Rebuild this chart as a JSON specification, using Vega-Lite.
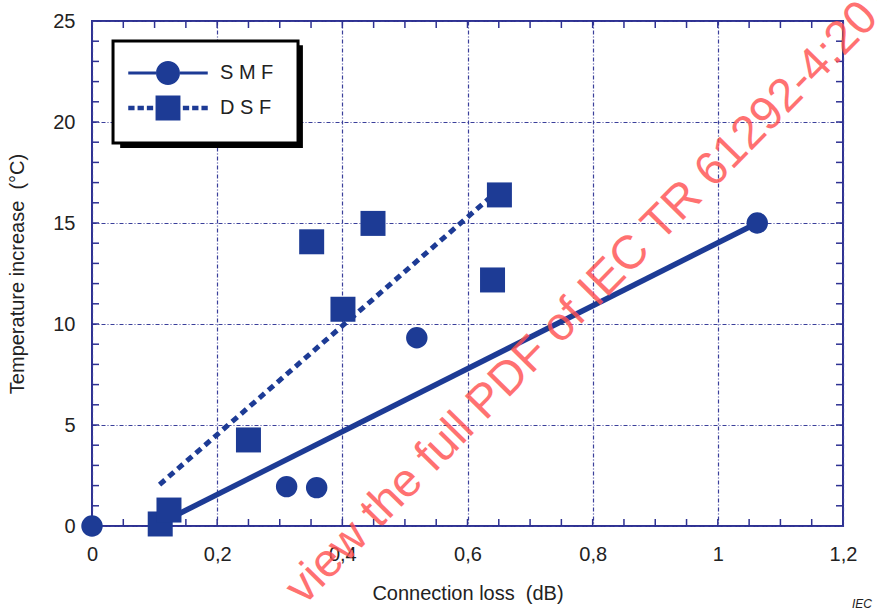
{
  "$schema": "https://vega.github.io/schema/vega-lite/v6.json",
  "width": 751,
  "height": 505,
  "autosize": "none",
  "padding": {"left": 92, "top": 21, "right": 34, "bottom": 85},
  "background": "white",
  "config": {
    "view": {"stroke": "#2e3192", "strokeWidth": 2},
    "font": "Liberation Sans",
    "axis": {
      "domain": false,
      "ticks": false,
      "gridColor": "#3a3f9a",
      "gridDash": [4, 2, 1, 2],
      "gridWidth": 1.2,
      "labelFontSize": 20,
      "labelColor": "#222222",
      "labelFont": "Liberation Sans",
      "labelFlush": false,
      "labelOverlap": false,
      "labelBound": false,
      "titleFontSize": 20,
      "titleFontWeight": "normal",
      "titleColor": "#222222",
      "titleFont": "Liberation Sans"
    }
  },
  "datasets": {
    "points": [
      {"series": "S M F", "loss": 0, "temp": 0},
      {"series": "S M F", "loss": 0.311, "temp": 1.95},
      {"series": "S M F", "loss": 0.359, "temp": 1.9},
      {"series": "S M F", "loss": 0.519, "temp": 9.32},
      {"series": "S M F", "loss": 1.063, "temp": 15.0},
      {"series": "D S F", "loss": 0.109, "temp": 0.1},
      {"series": "D S F", "loss": 0.123, "temp": 0.79},
      {"series": "D S F", "loss": 0.25, "temp": 4.26},
      {"series": "D S F", "loss": 0.351, "temp": 14.07},
      {"series": "D S F", "loss": 0.401, "temp": 10.73},
      {"series": "D S F", "loss": 0.449, "temp": 14.98},
      {"series": "D S F", "loss": 0.64, "temp": 12.18},
      {"series": "D S F", "loss": 0.651, "temp": 16.39}
    ],
    "lines": [
      {"series": "S M F", "loss": 0.1, "temp": 0},
      {"series": "S M F", "loss": 1.063, "temp": 15.0},
      {"series": "D S F", "loss": 0.108, "temp": 2.05},
      {"series": "D S F", "loss": 0.645, "temp": 16.5}
    ],
    "ticksX": [
      {"v": 0.05}, {"v": 0.1}, {"v": 0.15}, {"v": 0.2}, {"v": 0.25}, {"v": 0.3}, {"v": 0.35}, {"v": 0.4}, {"v": 0.45}, {"v": 0.5}, {"v": 0.55}, {"v": 0.6},
      {"v": 0.65}, {"v": 0.7}, {"v": 0.75}, {"v": 0.8}, {"v": 0.85}, {"v": 0.9}, {"v": 0.95}, {"v": 1}, {"v": 1.05}, {"v": 1.1}, {"v": 1.15}
    ],
    "ticksY": [
      {"v": 1}, {"v": 2}, {"v": 3}, {"v": 4}, {"v": 5}, {"v": 6}, {"v": 7}, {"v": 8}, {"v": 9}, {"v": 10}, {"v": 11}, {"v": 12},
      {"v": 13}, {"v": 14}, {"v": 15}, {"v": 16}, {"v": 17}, {"v": 18}, {"v": 19}, {"v": 20}, {"v": 21}, {"v": 22}, {"v": 23}, {"v": 24}
    ]
  },
  "layer": [
    {
      "data": {"values": [{"part": "shadow"}]},
      "mark": {"type": "rect", "fill": "#000000"},
      "encoding": {
        "x": {"datum": 0.045, "type": "quantitative", "scale": {"domain": [0, 1.2], "nice": false}, "axis": null},
        "x2": {"datum": 0.337},
        "y": {"datum": 18.71, "type": "quantitative", "scale": {"domain": [0, 25], "nice": false}, "axis": null},
        "y2": {"datum": 23.8}
      }
    },
    {
      "data": {"values": [{"part": "box"}]},
      "mark": {"type": "rect", "fill": "#ffffff", "stroke": "#000000", "strokeWidth": 3},
      "encoding": {
        "x": {"datum": 0.0336, "type": "quantitative", "axis": null},
        "x2": {"datum": 0.3292},
        "y": {"datum": 18.96, "type": "quantitative", "axis": null},
        "y2": {"datum": 24.01}
      }
    },
    {
      "data": {"name": "ticksX"},
      "mark": {"type": "tick", "orient": "vertical", "color": "#2e3192", "size": 7, "thickness": 1.5, "yOffset": -3.5, "opacity": 1, "clip": false},
      "encoding": {
        "x": {"field": "v", "type": "quantitative", "axis": null},
        "y": {"datum": 0, "type": "quantitative", "axis": null}
      }
    },
    {
      "data": {"name": "ticksX"},
      "mark": {"type": "tick", "orient": "vertical", "color": "#2e3192", "size": 7, "thickness": 1.5, "yOffset": 3.5, "opacity": 1, "clip": false},
      "encoding": {
        "x": {"field": "v", "type": "quantitative", "axis": null},
        "y": {"datum": 25, "type": "quantitative", "axis": null}
      }
    },
    {
      "data": {"name": "ticksY"},
      "mark": {"type": "tick", "orient": "horizontal", "color": "#2e3192", "size": 7, "thickness": 1.5, "xOffset": 3.5, "opacity": 1, "clip": false},
      "encoding": {
        "y": {"field": "v", "type": "quantitative", "axis": null},
        "x": {"datum": 0, "type": "quantitative", "axis": null}
      }
    },
    {
      "data": {"name": "ticksY"},
      "mark": {"type": "tick", "orient": "horizontal", "color": "#2e3192", "size": 7, "thickness": 1.5, "xOffset": -3.5, "opacity": 1, "clip": false},
      "encoding": {
        "y": {"field": "v", "type": "quantitative", "axis": null},
        "x": {"datum": 1.2, "type": "quantitative", "axis": null}
      }
    },
    {
      "data": {"name": "lines"},
      "transform": [{"filter": "datum.series === 'S M F'"}],
      "mark": {"type": "line", "color": "#1d3b95", "strokeWidth": 5.5, "clip": false},
      "encoding": {
        "x": {
          "field": "loss", "type": "quantitative",
          "axis": {
            "orient": "bottom",
            "title": "Connection loss \u00a0(dB)",
            "values": [0, 0.2, 0.4, 0.6, 0.8, 1, 1.2],
            "grid": true,
            "labelExpr": "replace(format(datum.value, '~g'), '.', ',')",
            "labelPadding": 18,
            "titlePadding": 19
          }
        },
        "y": {
          "field": "temp", "type": "quantitative",
          "axis": {
            "orient": "left",
            "title": "Temperature increase \u00a0(°C)",
            "values": [0, 5, 10, 15, 20, 25],
            "grid": true,
            "labelExpr": "format(datum.value, 'd')",
            "labelPadding": 17,
            "titlePadding": 25
          }
        }
      }
    },
    {
      "data": {"name": "lines"},
      "transform": [{"filter": "datum.series === 'D S F'"}],
      "mark": {"type": "line", "color": "#1d3b95", "strokeWidth": 5, "strokeDash": [7, 5], "clip": false},
      "encoding": {
        "x": {"field": "loss", "type": "quantitative", "axis": null},
        "y": {"field": "temp", "type": "quantitative", "axis": null}
      }
    },
    {
      "data": {"name": "points"},
      "mark": {"type": "point", "filled": true, "color": "#1d3b95", "opacity": 1, "clip": false},
      "encoding": {
        "x": {"field": "loss", "type": "quantitative", "axis": null},
        "y": {"field": "temp", "type": "quantitative", "axis": null},
        "shape": {
          "field": "series", "type": "nominal",
          "scale": {"domain": ["S M F", "D S F"], "range": ["circle", "square"]},
          "legend": null
        },
        "size": {
          "field": "series", "type": "ordinal",
          "scale": {"domain": ["S M F", "D S F"], "range": [460, 625]},
          "legend": null
        }
      }
    },
    {
      "data": {"name": "points"},
      "transform": [{"filter": "false"}],
      "mark": {"type": "point", "filled": true, "color": "#1d3b95"},
      "encoding": {
        "x": {"field": "loss", "type": "quantitative", "axis": null},
        "y": {"field": "temp", "type": "quantitative", "axis": null},
        "shape": {
          "field": "series", "type": "nominal",
          "scale": {
            "domain": ["S M F", "D S F"],
            "range": [
              "M-2.65,-0.1H-0.8V0.1H-2.65Z M0.8,-0.1H2.65V0.1H0.8Z M-0.8,0A0.8,0.8 0 1,1 0.8,0A0.8,0.8 0 1,1 -0.8,0Z",
              "M-2.65,-0.15H-2.23V0.15H-2.65Z M-2.03,-0.15H-1.61V0.15H-2.03Z M-1.41,-0.15H-0.99V0.15H-1.41Z M0.99,-0.15H1.41V0.15H0.99Z M1.61,-0.15H2.03V0.15H1.61Z M2.23,-0.15H2.65V0.15H2.23Z M-0.83,-0.83H0.83V0.83H-0.83Z"
            ]
          },
          "legend": {
            "orient": "none",
            "legendX": 61,
            "legendY": 37,
            "title": null,
            "symbolSize": 900,
            "symbolFillColor": "#1d3b95",
            "symbolStrokeColor": "#1d3b95",
            "symbolStrokeWidth": 0,
            "symbolOpacity": 1,
            "labelFontSize": 20,
            "labelFont": "Liberation Sans",
            "labelColor": "#222222",
            "labelOffset": 37,
            "rowPadding": 8,
            "padding": 0
          }
        }
      }
    },
    {
      "data": {"values": [{"t": "view the full PDF of IEC TR 61292-4:2014"}]},
      "mark": {"type": "text", "align": "left", "baseline": "alphabetic", "angle": -45.5, "fontSize": 47, "font": "Liberation Sans", "color": "#ff5252", "opacity": 0.82, "clip": false},
      "encoding": {
        "x": {"datum": 0.3388, "type": "quantitative", "axis": null},
        "y": {"datum": -3.96, "type": "quantitative", "axis": null},
        "text": {"field": "t", "type": "nominal"}
      }
    },
    {
      "data": {"values": [{"t": "IEC"}]},
      "mark": {"type": "text", "align": "left", "baseline": "alphabetic", "fontSize": 12, "fontStyle": "italic", "font": "Liberation Sans", "color": "#222222", "clip": false},
      "encoding": {
        "x": {"datum": 1.2144, "type": "quantitative", "axis": null},
        "y": {"datum": -4.06, "type": "quantitative", "axis": null},
        "text": {"field": "t", "type": "nominal"}
      }
    }
  ],
  "resolve": {
    "scale": {"shape": "independent"},
    "legend": {"shape": "independent"},
    "axis": {"x": "independent", "y": "independent"}
  }
}
